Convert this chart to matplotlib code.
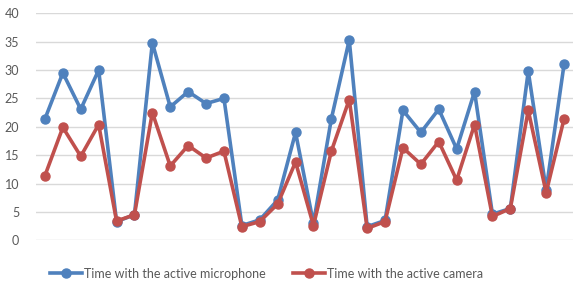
import matplotlib
matplotlib.use("Agg")
import matplotlib.pyplot as plt
import numpy as np

# --- Datos ---
microphone = [21.4, 29.5, 23.1, 30.0, 3.3, 4.5, 34.8, 23.5, 26.2, 24.1,
              25.0, 2.6, 3.6, 7.1, 19.0, 3.0, 21.4, 35.3, 2.4, 3.5,
              22.9, 19.0, 23.1, 16.1, 26.2, 4.6, 5.6, 29.8, 8.9, 31.0]
camera = [11.4, 19.9, 14.8, 20.4, 3.4, 4.5, 22.5, 13.1, 16.7, 14.5,
          15.7, 2.4, 3.3, 6.4, 13.8, 2.6, 15.7, 24.8, 2.1, 3.3,
          16.3, 13.4, 17.4, 10.6, 20.4, 4.2, 5.6, 22.9, 8.4, 21.4]
y_ticks = [0, 5, 10, 15, 20, 25, 30, 35, 40]
labels = ["Time with the active microphone", "Time with the active camera"]

plt.rcParams['font.family'] = ['Lato', 'DejaVu Sans']

fig = plt.figure(figsize=(5.8, 2.88), dpi=100)
ax = fig.add_axes([36 / 580, 47.7 / 288, (573 - 36) / 580, (240.3 - 13.3) / 288])

x = np.arange(len(microphone))
ax.plot(x, microphone, color='#4F81BD', lw=2.6, marker='o', ms=6.5, label=labels[0],
        solid_joinstyle='round', zorder=3)
ax.plot(x, camera, color='#C0504D', lw=2.6, marker='o', ms=6.5, label=labels[1],
        solid_joinstyle='round', zorder=4)

ax.set_xlim(-0.5, len(microphone) - 0.5)
ax.set_ylim(0, 40)
ax.set_yticks(y_ticks)
ax.set_xticks([])
ax.yaxis.grid(True, color='#D9D9D9', lw=1)
ax.set_axisbelow(True)
for s in ax.spines.values():
    s.set_visible(False)
ax.tick_params(axis='y', length=0, pad=12, labelsize=9, labelcolor='#595959')

fig.legend(loc='lower center', bbox_to_anchor=(0.459, -0.01), ncol=2, frameon=False,
           fontsize=9, labelcolor='#595959', handlelength=2.6, handletextpad=0.1,
           columnspacing=2.2)

fig.savefig("out.png", dpi=100)
